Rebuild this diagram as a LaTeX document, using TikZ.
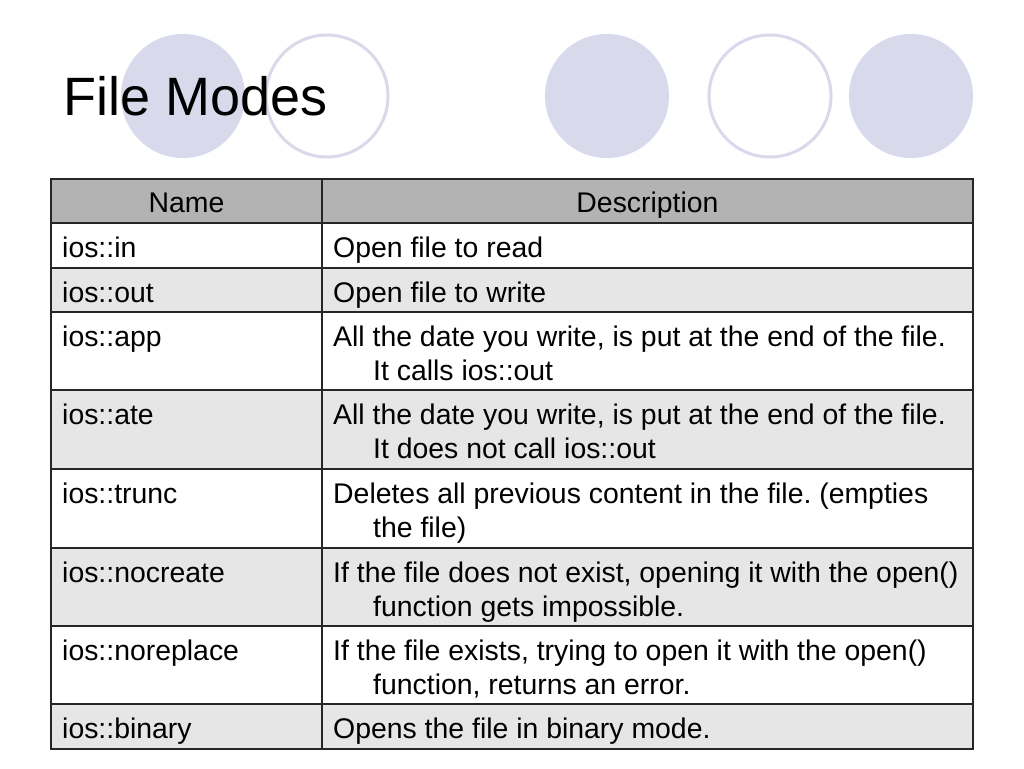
\documentclass[tikz,border=0pt]{standalone}
\usepackage{fontspec}
\setmainfont{Liberation Sans}
\frenchspacing
\definecolor{dotfill}{RGB}{217,217,236}
\definecolor{headgray}{RGB}{179,179,179}
\definecolor{rowgray}{RGB}{230,230,230}
\begin{document}
\begin{tikzpicture}[x = 1pt, y = -1pt,
	cell/.style = {anchor = base west, inner sep = 0pt, font = \fontsize{28.4}{32}\selectfont},
	headcell/.style = {anchor = base, inner sep = 0pt, font = \fontsize{28.4}{32}\selectfont}]
	
	\useasboundingbox[fill, white] (0, 0) rectangle (1024, 768);
	
	% circles behind the title
	\fill[dotfill] (183, 96) circle (62pt);
	\draw[line width = 3pt, dotfill] (327, 96) circle (61pt);
	\fill[dotfill] (607, 96) circle (62pt);
	\draw[line width = 3pt, dotfill] (770, 96) circle (61pt);
	\fill[dotfill] (911, 96) circle (62pt);
	
	\node[anchor = base west, inner sep = 0pt, font = \fontsize{54}{60}\selectfont] (title) at (63, 115) {File Modes};
	
	% table fills
	\fill[headgray] (51, 179) rectangle (973, 223);
	\fill[rowgray] (51, 268) rectangle (973, 312);
	\fill[rowgray] (51, 390) rectangle (973, 469);
	\fill[rowgray] (51, 548) rectangle (973, 626);
	\fill[rowgray] (51, 704) rectangle (973, 749);
	
	% table rules
	\draw[line width = 1.3pt, black!85] (51, 179) rectangle (973, 749);
	\draw[line width = 1.3pt, black!85] (322, 179) to (322, 749);
	\draw[line width = 1.3pt, black!85] (51, 223) to (973, 223);
	\draw[line width = 1.3pt, black!85] (51, 268) to (973, 268);
	\draw[line width = 1.3pt, black!85] (51, 312) to (973, 312);
	\draw[line width = 1.3pt, black!85] (51, 390) to (973, 390);
	\draw[line width = 1.3pt, black!85] (51, 469) to (973, 469);
	\draw[line width = 1.3pt, black!85] (51, 548) to (973, 548);
	\draw[line width = 1.3pt, black!85] (51, 626) to (973, 626);
	\draw[line width = 1.3pt, black!85] (51, 704) to (973, 704);
	
	\node[headcell] (hname) at (186.5, 212) {Name};
	\node[headcell] (hdesc) at (647.5, 212) {Description};
	
	\node[cell] (in) at (62, 257) {ios::in};
	\node[cell] (indesc) at (333, 257) {Open file to read};
	
	\node[cell] (out) at (62, 302) {ios::out};
	\node[cell] (outdesc) at (333, 302) {Open file to write};
	
	\node[cell] (app) at (62, 346) {ios::app};
	\node[cell] (appdesc) at (333, 346) {All the date you write, is put at the end of the file.};
	\node[cell] (appmore) at (373, 380) {It calls ios::out};
	
	\node[cell] (ate) at (62, 424) {ios::ate};
	\node[cell] (atedesc) at (333, 424) {All the date you write, is put at the end of the file.};
	\node[cell] (atemore) at (373, 458) {It does not call ios::out};
	
	\node[cell] (trunc) at (62, 503) {ios::trunc};
	\node[cell] (truncdesc) at (333, 503) {Deletes all previous content in the file. (empties};
	\node[cell] (truncmore) at (373, 537) {the file)};
	
	\node[cell] (nocreate) at (62, 582) {ios::nocreate};
	\node[cell] (nocreatedesc) at (333, 582) {If the file does not exist, opening it with the open()};
	\node[cell] (nocreatemore) at (373, 616) {function gets impossible.};
	
	\node[cell] (noreplace) at (62, 660) {ios::noreplace};
	\node[cell] (noreplacedesc) at (333, 660) {If the file exists, trying to open it with the open()};
	\node[cell] (noreplacemore) at (373, 694) {function, returns an error.};
	
	\node[cell] (binary) at (62, 738) {ios::binary};
	\node[cell] (binarydesc) at (333, 738) {Opens the file in binary mode.};
\end{tikzpicture}
\end{document}
